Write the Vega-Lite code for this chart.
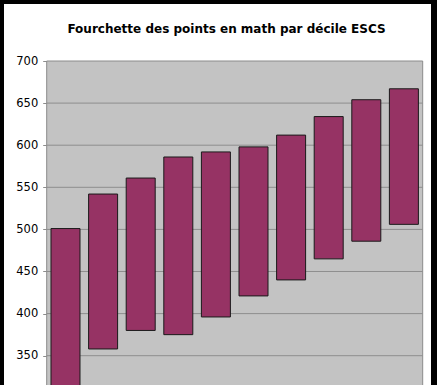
{
  "$schema": "https://vega.github.io/schema/vega-lite/v6.json",
  "width": 427,
  "height": 381,
  "autosize": "none",
  "padding": {"left": 4, "top": 4, "right": 6, "bottom": 0},
  "background": "black",
  "config": {
    "view": {"fill": "white", "stroke": null},
    "font": "DejaVu Sans"
  },
  "title": {
    "text": "Fourchette des points en math par décile ESCS",
    "font": "DejaVu Sans",
    "fontSize": 12,
    "fontWeight": "bold",
    "color": "black",
    "anchor": "middle",
    "baseline": "middle",
    "offset": -36.5,
    "dx": 9
  },
  "datasets": {
    "bars": [
      {"decile": 1, "low": 290, "high": 501},
      {"decile": 2, "low": 358, "high": 542},
      {"decile": 3, "low": 380, "high": 561},
      {"decile": 4, "low": 375, "high": 586},
      {"decile": 5, "low": 396, "high": 592},
      {"decile": 6, "low": 421, "high": 598},
      {"decile": 7, "low": 440, "high": 612},
      {"decile": 8, "low": 465, "high": 634},
      {"decile": 9, "low": 486, "high": 654},
      {"decile": 10, "low": 506, "high": 667}
    ],
    "grid": [
      {"v": 350}, {"v": 400}, {"v": 450}, {"v": 500}, {"v": 550}, {"v": 600}, {"v": 650}
    ]
  },
  "layer": [
    {
      "data": {"values": [{}]},
      "mark": {"type": "rect", "fill": "#c3c3c3", "stroke": "#8c8c8c", "strokeWidth": 1, "clip": true},
      "encoding": {
        "x": {"datum": 0.5, "type": "quantitative", "scale": {"domain": [-0.6356, 10.7207], "nice": false, "zero": false, "padding": 0}, "axis": null},
        "x2": {"datum": 10.5},
        "y": {
          "datum": 700,
          "type": "quantitative",
          "scale": {"domain": [315.2, 767.7], "nice": false, "zero": false, "padding": 0},
          "axis": {
            "values": [350, 400, 450, 500, 550, 600, 650, 700],
            "offset": -42.7,
            "domain": false,
            "grid": false,
            "title": null,
            "tickSize": 4,
            "tickColor": "#8c8c8c",
            "labelPadding": 5,
            "labelFont": "DejaVu Sans",
            "labelFontSize": 11.5,
            "labelColor": "black"
          }
        },
        "y2": {"datum": 280}
      }
    },
    {
      "data": {"name": "grid"},
      "mark": {"type": "rule", "color": "#8e8e8e", "strokeWidth": 1},
      "encoding": {
        "x": {"datum": 0.5, "type": "quantitative", "axis": null},
        "x2": {"datum": 10.5},
        "y": {"field": "v", "type": "quantitative"}
      }
    },
    {
      "data": {"name": "bars"},
      "mark": {"type": "bar", "size": 29, "fill": "#963364", "stroke": "#1a1a1a", "strokeWidth": 1, "clip": true},
      "encoding": {
        "x": {"field": "decile", "type": "quantitative", "axis": null},
        "y": {"field": "low", "type": "quantitative"},
        "y2": {"field": "high"}
      }
    }
  ]
}
